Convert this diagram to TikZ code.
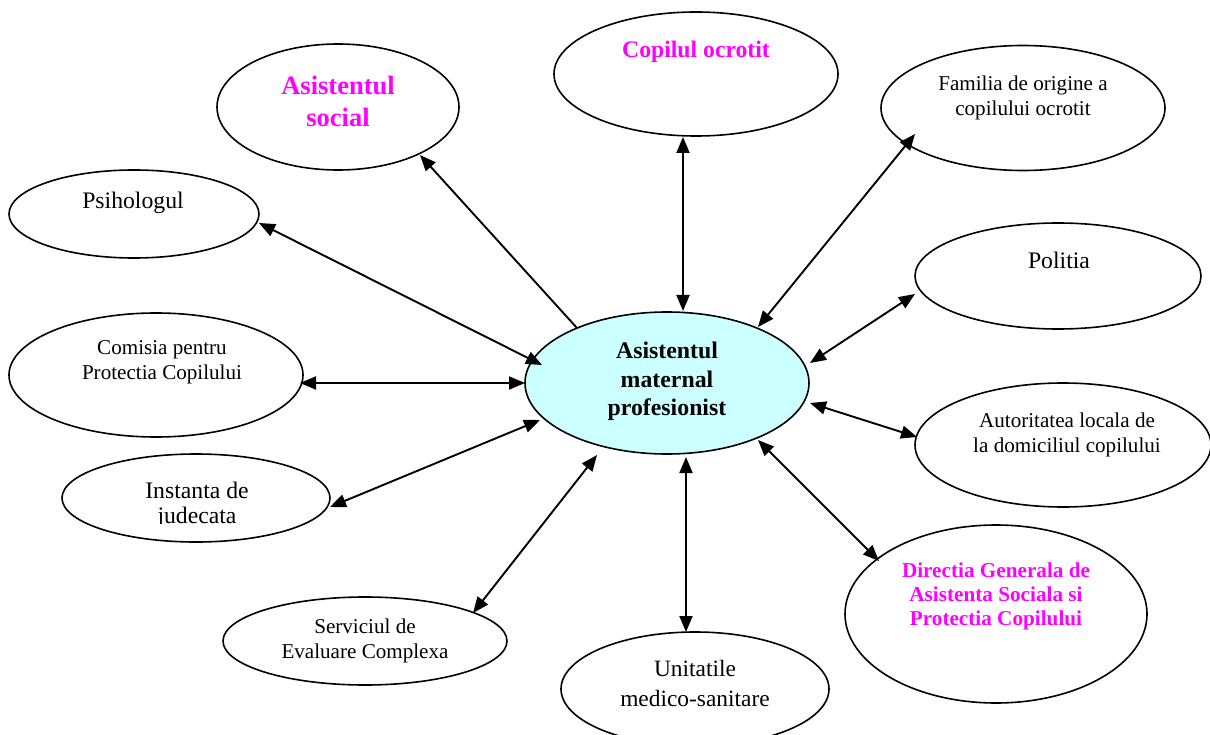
\documentclass[tikz,border=0pt]{standalone}
\usepackage{fontspec}
\setmainfont{Liberation Serif}
\usetikzlibrary{shapes.geometric,arrows.meta,calc}
\definecolor{mag}{HTML}{FF00FF}
\definecolor{cfill}{HTML}{CCFFFF}
\tikzset{
  ell/.style={draw, ellipse, line width=1.6pt, inner sep=0pt},
  txt/.style={align=center, inner sep=0pt},
  tipT/.tip={Triangle[length=16pt,width=13pt]},
  link/.style={line width=1.9pt, tipT-tipT},
  linkone/.style={line width=1.9pt, -tipT},
}
\newcommand{\szA}{\fontsize{21.1}{25}\selectfont}
\newcommand{\szB}{\fontsize{23.7}{25}\selectfont}
\begin{document}
\begin{tikzpicture}[x=1pt,y=-1pt]
\useasboundingbox (0,0) rectangle (1210,735);
% ellipses
\node[ell, fill=cfill, minimum width=284, minimum height=142] (c) at (667,383) {};
\node[ell, minimum width=242, minimum height=126] (soc) at (338,107) {};
\node[ell, minimum width=284, minimum height=124] (cop) at (696,74) {};
\node[ell, minimum width=284, minimum height=125] (fam) at (1023,108) {};
\node[ell, minimum width=250, minimum height=88] (psi) at (134,214) {};
\node[ell, minimum width=286, minimum height=106] (pol) at (1058,276) {};
\node[ell, minimum width=294, minimum height=124] (com) at (156,375) {};
\node[ell, minimum width=296, minimum height=124] (aut) at (1063,445) {};
\node[ell, minimum width=268, minimum height=88] (ins) at (196,498) {};
\node[ell, minimum width=302, minimum height=178] (dir) at (996,614) {};
\node[ell, minimum width=284, minimum height=88] (ser) at (365,641) {};
\node[ell, minimum width=268, minimum height=114] (uni) at (695,689) {};
% texts
\node[txt, font=\fontsize{23.8}{28.5}\selectfont\bfseries] (ct) at (667,381.5) {Asistentul\\maternal\\profesionist};
\node[txt, text=mag, font=\fontsize{26.5}{32}\selectfont\bfseries] (soct) at (338,101) {Asistentul\\social};
\node[txt, text=mag, font=\fontsize{23.7}{28}\selectfont\bfseries] (copt) at (696,52) {Copilul ocrotit};
\node[txt, font=\szA] (famt) at (1023,97.5) {Familia de origine a\\copilului ocrotit};
\node[txt, font=\szB] (psit) at (133,203) {Psihologul};
\node[txt, font=\szB] (polt) at (1059,260) {Politia};
\node[txt, font=\szA] (comt) at (162,362.5) {Comisia pentru\\Protectia Copilului};
\node[txt, font=\szA] (autt) at (1067,434.5) {Autoritatea locala de\\la domiciliul copilului};
\begin{scope}
  \clip (0,0) rectangle (1210,523);
  \node[txt, font=\szB] (inst) at (197,505) {Instanta de\\judecata};
\end{scope}
\node[txt, text=mag, font=\fontsize{21.2}{24}\selectfont\bfseries] (dirt) at (996,596) {Directia Generala de\\Asistenta Sociala si\\Protectia Copilului};
\node[txt, font=\szA] (sert) at (365,640.5) {Serviciul de\\Evaluare Complexa};
\node[txt, font=\fontsize{23.4}{30}\selectfont] (unit) at (695,683) {Unitatile\\medico-sanitare};
% connectors
\draw[linkone] ($(c)+(-90,-55)$) -- ($(soc)+(82,48)$);
\draw[link] ($(cop)+(-13,63)$) -- ($(c)+(16,-72)$);
\draw[link] ($(fam)+(-108,26)$) -- ($(c)+(91,-56)$);
\draw[link] ($(psi)+(125,9)$) -- ($(c)+(-125,-18)$);
\draw[link] ($(pol)+(-143,18)$) -- ($(c)+(143,-20)$);
\draw[link] ($(com)+(144,8)$) -- ($(c)+(-142,0)$);
\draw[link] ($(aut)+(-146,-8)$) -- ($(c)+(143,20)$);
\draw[link] ($(ins)+(134,9)$) -- ($(c)+(-127,37)$);
\draw[link] ($(ser)+(108,-28)$) -- ($(c)+(-70,72)$);
\draw[link] ($(uni)+(-9,-57)$) -- ($(c)+(19,74)$);
\draw[link] ($(dir)+(-117,-53)$) -- ($(c)+(91,57)$);
\end{tikzpicture}
\end{document}
